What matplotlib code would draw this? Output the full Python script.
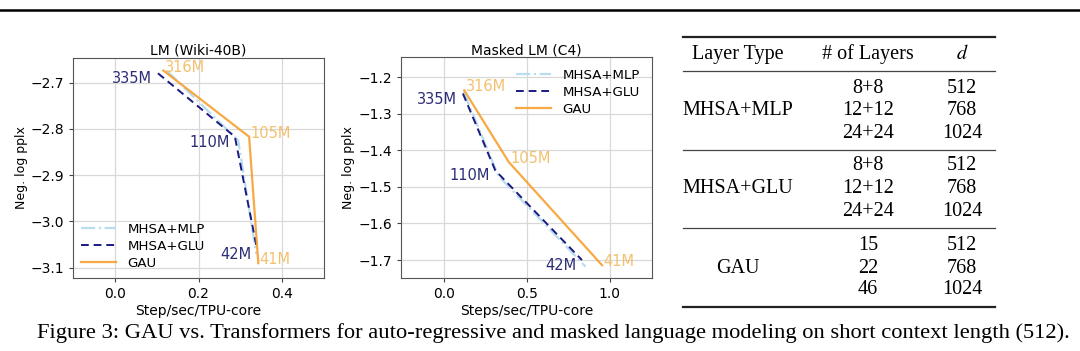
"""GAU vs. Transformers: speed/quality curves plus model-config table."""

import matplotlib
matplotlib.use("Agg")
import matplotlib.pyplot as plt

# ---- data ----
# LM (Wiki-40B)
lm_mlp_x = [0.125, 0.295, 0.338]
lm_mlp_y = [-2.675, -2.825, -3.07]
lm_glu_x = [0.103, 0.287, 0.340]
lm_glu_y = [-2.680, -2.817, -3.060]
lm_gau_x = [0.116, 0.321, 0.343]
lm_gau_y = [-2.674, -2.817, -3.090]

# Masked LM (C4)
mlm_mlp_x = [0.120, 0.330, 0.855]
mlm_mlp_y = [-1.240, -1.470, -1.718]
mlm_glu_x = [0.116, 0.311, 0.833]
mlm_glu_y = [-1.245, -1.455, -1.700]
mlm_gau_x = [0.124, 0.392, 0.954]
mlm_gau_y = [-1.236, -1.432, -1.714]

glu_sizes = ["335M", "110M", "42M"]
gau_sizes = ["316M", "105M", "41M"]

table_header = ["Layer Type", "# of Layers", "$d$"]
layer_types = ["MHSA+MLP", "MHSA+GLU", "GAU"]
n_layers = [["8+8", "12+12", "24+24"], ["8+8", "12+12", "24+24"], ["15", "22", "46"]]
dims = [["512", "768", "1024"]] * 3

caption = ("Figure 3: GAU vs. Transformers for auto-regressive and masked "
           "language modeling on short context length (512).")

C_MLP = "#b9dcef"
C_GLU = "#1a1a80"
C_GAU = "#f7a030"
C_GLU_TXT = "#2c2c78"
C_GAU_TXT = "#f2b655"

fig = plt.figure(figsize=(10.8, 3.51), dpi=100)
W, H = 1080, 351


def px_axes(l, t, r, b):
    return fig.add_axes([l / W, 1 - b / H, (r - l) / W, (b - t) / H])


def draw_panel(ax, mlp, glu, gau, title, xlabel, xlim, ylim, xticks, yticks, legend_kw):
    ax.plot(*mlp, color=C_MLP, lw=1.6, ls="-.", label="MHSA+MLP")
    ax.plot(*glu, color=C_GLU, lw=1.4, ls=(0, (4, 2.5)), label="MHSA+GLU")
    ax.plot(*gau, color=C_GAU, lw=1.6, alpha=0.9, label="GAU")
    # size labels: MHSA+GLU to the lower left, GAU to the upper right
    for x, y, s in zip(glu[0], glu[1], glu_sizes):
        ax.annotate(s, (x, y), xytext=(-4, -4), textcoords="offset points",
                    color=C_GLU_TXT, fontsize=10.5, ha="right", va="center")
    for x, y, s in zip(gau[0], gau[1], gau_sizes):
        ax.annotate(s, (x, y), xytext=(1, 2.5), textcoords="offset points",
                    color=C_GAU_TXT, fontsize=10.5, ha="left", va="center", alpha=0.85)
    ax.set_xlim(*xlim)
    ax.set_ylim(*ylim)
    ax.set_xticks(xticks)
    ax.set_yticks(yticks)
    ax.grid(True, color="#d8d8d8", lw=0.9)
    ax.set_axisbelow(True)
    ax.tick_params(labelsize=10, length=3, color="#444444")
    for sp in ax.spines.values():
        sp.set_color("#555555")
        sp.set_linewidth(0.8)
    ax.set_title(title, fontsize=10, pad=2)
    ax.set_xlabel(xlabel, fontsize=10, labelpad=2)
    ax.set_ylabel("Neg. log pplx", fontsize=9, labelpad=2)
    ax.legend(fontsize=9.6, frameon=False, handlelength=2.6,
              labelspacing=0.3, handletextpad=0.9, **legend_kw)


ax1 = px_axes(73, 58, 324, 278)
draw_panel(ax1, (lm_mlp_x, lm_mlp_y), (lm_glu_x, lm_glu_y), (lm_gau_x, lm_gau_y),
           "LM (Wiki-40B)", "Step/sec/TPU-core", (-0.1, 0.5), (-3.122, -2.647),
           [0.0, 0.2, 0.4], [-2.7, -2.8, -2.9, -3.0, -3.1],
           dict(loc="lower left", borderaxespad=0.2))

ax2 = px_axes(401, 57, 652, 278)
draw_panel(ax2, (mlm_mlp_x, mlm_mlp_y), (mlm_glu_x, mlm_glu_y), (mlm_gau_x, mlm_gau_y),
           "Masked LM (C4)", "Steps/sec/TPU-core", (-0.257, 1.255), (-1.749, -1.145),
           [0.0, 0.5, 1.0], [-1.2, -1.3, -1.4, -1.5, -1.6, -1.7],
           dict(loc="upper right", borderaxespad=0.5))

# ---- table and rules drawn in pixel coordinates on an overlay ----
ov = fig.add_axes([0, 0, 1, 1], zorder=5)
ov.set_xlim(0, W)
ov.set_ylim(H, 0)
ov.axis("off")
ov.patch.set_alpha(0)

ov.plot([0, W], [10, 10], color="black", lw=1.8)

serif = ["Liberation Serif", "DejaVu Serif"]
tl, tr = 683, 995
col_x = [738, 868, 962]
fs_tab = 14.5
ov.plot([tl, tr], [36.7, 36.7], color="#222222", lw=1.6)
ov.plot([tl, tr], [70.7, 70.7], color="#444444", lw=0.9)
for x, h in zip(col_x, table_header):
    ov.text(x, 54.3, h, family=serif, fontsize=fs_tab, ha="center", va="center",
            math_fontfamily="stix")

group_rows = [[88.3, 110.7, 133.3], [165.7, 188.3, 211.7], [245, 268.3, 290]]
rules = [150, 228.3]
for g, name in enumerate(layer_types):
    ys = group_rows[g]
    ov.text(col_x[0], ys[1], name, family=serif, fontsize=fs_tab, ha="center", va="center")
    for y, nl, d in zip(ys, n_layers[g], dims[g]):
        ov.text(col_x[1], y, nl, family=serif, fontsize=fs_tab, ha="center", va="center")
        ov.text(col_x[2], y, d, family=serif, fontsize=fs_tab, ha="center", va="center")
for y in rules:
    ov.plot([tl, tr], [y, y], color="#444444", lw=0.9)
ov.plot([tl, tr], [306.7, 306.7], color="#222222", lw=1.6)

ov.text(553, 333, caption, family=serif, fontsize=16.2, ha="center", va="center")

fig.savefig("out.png", dpi=100)
